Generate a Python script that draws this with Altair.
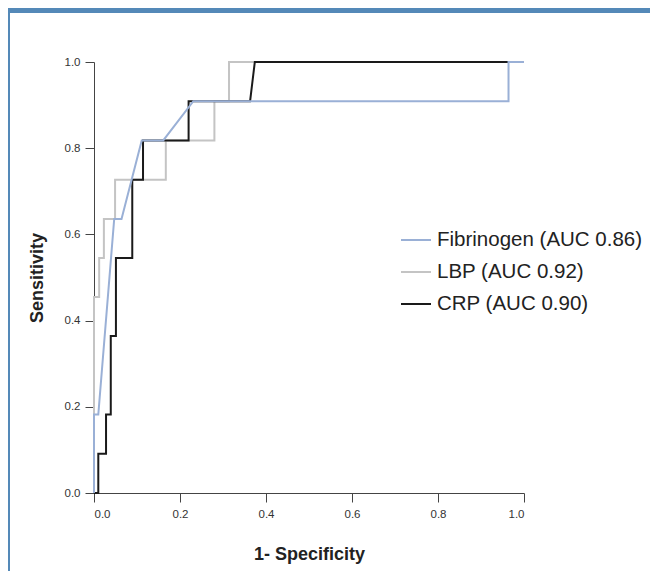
import altair as alt
import pandas as pd

# ROC curve points
fib_x = [0.0, 0.0, 0.010, 0.047, 0.064, 0.111, 0.161, 0.231, 0.964, 0.964, 1.0]
fib_y = [0.0, 0.182, 0.182, 0.636, 0.636, 0.818, 0.818, 0.909, 0.909, 1.0, 1.0]

lbp_x = [0.0, 0.0, 0.012, 0.012, 0.023, 0.023, 0.049, 0.049, 0.167, 0.167, 0.280, 0.280, 0.314, 0.314, 1.0]
lbp_y = [0.0, 0.455, 0.455, 0.545, 0.545, 0.636, 0.636, 0.727, 0.727, 0.818, 0.818, 0.909, 0.909, 1.0, 1.0]

crp_x = [0.0, 0.010, 0.010, 0.028, 0.028, 0.039, 0.039, 0.051, 0.051, 0.089, 0.089, 0.114, 0.114, 0.220, 0.220, 0.363, 0.374, 1.0]
crp_y = [0.0, 0.0, 0.091, 0.091, 0.182, 0.182, 0.364, 0.364, 0.545, 0.545, 0.727, 0.727, 0.818, 0.818, 0.909, 0.909, 1.0, 1.0]

series_names = ["Fibrinogen (AUC 0.86)", "LBP (AUC 0.92)", "CRP (AUC 0.90)"]
series_colors = ["#9ab0d6", "#c4c4c4", "#1a1a1a"]
tick_values = [0.0, 0.2, 0.4, 0.6, 0.8, 1.0]

FONT = "Liberation Sans"


def frame(xs, ys, name):
    return pd.DataFrame({"fpr": xs, "tpr": ys, "series": name, "idx": list(range(len(xs)))})


color_scale = alt.Scale(domain=series_names, range=series_colors)
x_scale = alt.Scale(domain=[0, 1], nice=False)
y_scale = alt.Scale(domain=[0, 1], nice=False)

x_axis = alt.Axis(values=tick_values, format=".1f", title="1- Specificity", grid=False,
                  tickSize=9, labelPadding=6, titlePadding=26)
y_axis = alt.Axis(values=tick_values, format=".1f", title="Sensitivity", grid=False,
                  tickSize=9, labelPadding=5, titlePadding=18)

legend = alt.Legend(title=None, orient="none", legendX=306, legendY=162,
                    symbolType="stroke", symbolSize=900, symbolStrokeWidth=2,
                    labelFontSize=20.5, labelFont=FONT, labelColor="#222",
                    labelLimit=400, rowPadding=5, labelOffset=5)


def line_layer(df):
    return alt.Chart(df).mark_line(strokeWidth=2, interpolate="linear").encode(
        x=alt.X("fpr:Q", scale=x_scale, axis=x_axis),
        y=alt.Y("tpr:Q", scale=y_scale, axis=y_axis),
        color=alt.Color("series:N", scale=color_scale, legend=legend),
        order="idx:Q",
    )


lbp = line_layer(frame(lbp_x, lbp_y, series_names[1]))
crp = line_layer(frame(crp_x, crp_y, series_names[2]))
fib = line_layer(frame(fib_x, fib_y, series_names[0]))

frame_color = "#5489b8"
header = alt.Chart(pd.DataFrame({"a": [0]})).mark_rect(color=frame_color).encode(
    x=alt.value(-86), x2=alt.value(556), y=alt.value(-54), y2=alt.value(-49)
)
left_border = alt.Chart(pd.DataFrame({"a": [0]})).mark_rect(color=frame_color).encode(
    x=alt.value(-86), x2=alt.value(-84), y=alt.value(-49), y2=alt.value(509)
)

chart = alt.layer(header, left_border, lbp, crp, fib).properties(
    width=430, height=431,
    autosize=alt.AutoSizeParams(type="none"),
    padding={"left": 86, "top": 54, "right": 126, "bottom": 78},
).configure_view(stroke=None).configure_axis(
    domainColor="#444", tickColor="#444", domainWidth=1, tickWidth=1,
    labelFont=FONT, labelFontSize=11.5, labelColor="#333",
    titleFont=FONT, titleFontSize=18, titleFontWeight="bold", titleColor="#222",
)

chart.save("out.html", embed_options={"renderer": "svg", "actions": False})
